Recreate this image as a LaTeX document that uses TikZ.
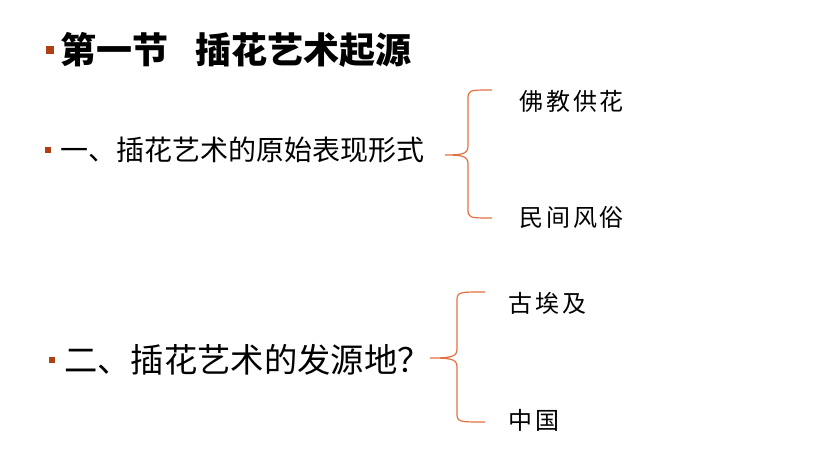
\documentclass[tikz,border=0pt]{standalone}
\usepackage{fontspec}
\newfontfamily\cjk{Noto Sans CJK SC}
\newfontfamily\cjkwide{Noto Sans CJK SC}[LetterSpace=12]
\definecolor{bulletrust}{RGB}{176,64,20}
\definecolor{braceorange}{RGB}{228,112,64}
\tikzset{
  bullet/.style={fill=bulletrust, inner sep=0pt, minimum size=#1},
  bullet/.default=5pt,
  lefttext/.style={anchor=west, inner sep=0pt},
  brace/.style={draw=braceorange, line width=0.9pt}
}

\begin{document}
\begin{tikzpicture}[x=0.75pt, y=-0.75pt]
  \useasboundingbox (0,0) rectangle (837,473);

  % ---- 見出し ----
  \node[bullet=5.5pt] (b0) at (50,50) {};
  \node[lefttext, font=\cjk\bfseries\fontsize{27}{31}\selectfont] (title) at (60,50)
    {第一节\hspace{0.75em}插花艺术起源};

  % ---- 一、原始表现形式 ----
  \node[bullet=4.5pt] (b1) at (48,150) {};
  \node[lefttext, font=\cjk\fontsize{21}{24}\selectfont] (form) at (60,150)
    {一、插花艺术的原始表现形式};

  % ---- 二、发源地 ----
  \node[bullet=5pt] (b2) at (52,360) {};
  \node[lefttext, font=\cjk\fontsize{25}{30}\selectfont] (origin) at (64,360)
    {二、插花艺术的发源地？};

  % ---- 右側の項目 ----
  \node[lefttext, font=\cjkwide\fontsize{18}{22}\selectfont] (buddha) at (519,101) {佛教供花};
  \node[lefttext, font=\cjkwide\fontsize{18}{22}\selectfont] (folk)   at (519,217) {民间风俗};
  \node[lefttext, font=\cjkwide\fontsize{18}{22}\selectfont] (egypt)  at (508,303) {古埃及};
  \node[lefttext, font=\cjkwide\fontsize{18}{22}\selectfont] (china)  at (508,420) {中国};

  % ---- 括弧 (tip x / line x / end x / top / mid / bottom) ----
  \foreach \xt/\xv/\xe/\yt/\ym/\yb in {445/468/492/90/155/218, 430/457/485/292/358/422}{%
    \draw[brace] (\xe,\yt) .. controls (\xv,\yt) .. (\xv,\yt+10)
      -- (\xv,\ym-9) .. controls (\xv,\ym-1) and (\xv-6,\ym) .. (\xt,\ym)
      .. controls (\xv-6,\ym) and (\xv,\ym+1) .. (\xv,\ym+9)
      -- (\xv,\yb-10) .. controls (\xv,\yb) .. (\xe,\yb);
  }
\end{tikzpicture}
\end{document}
